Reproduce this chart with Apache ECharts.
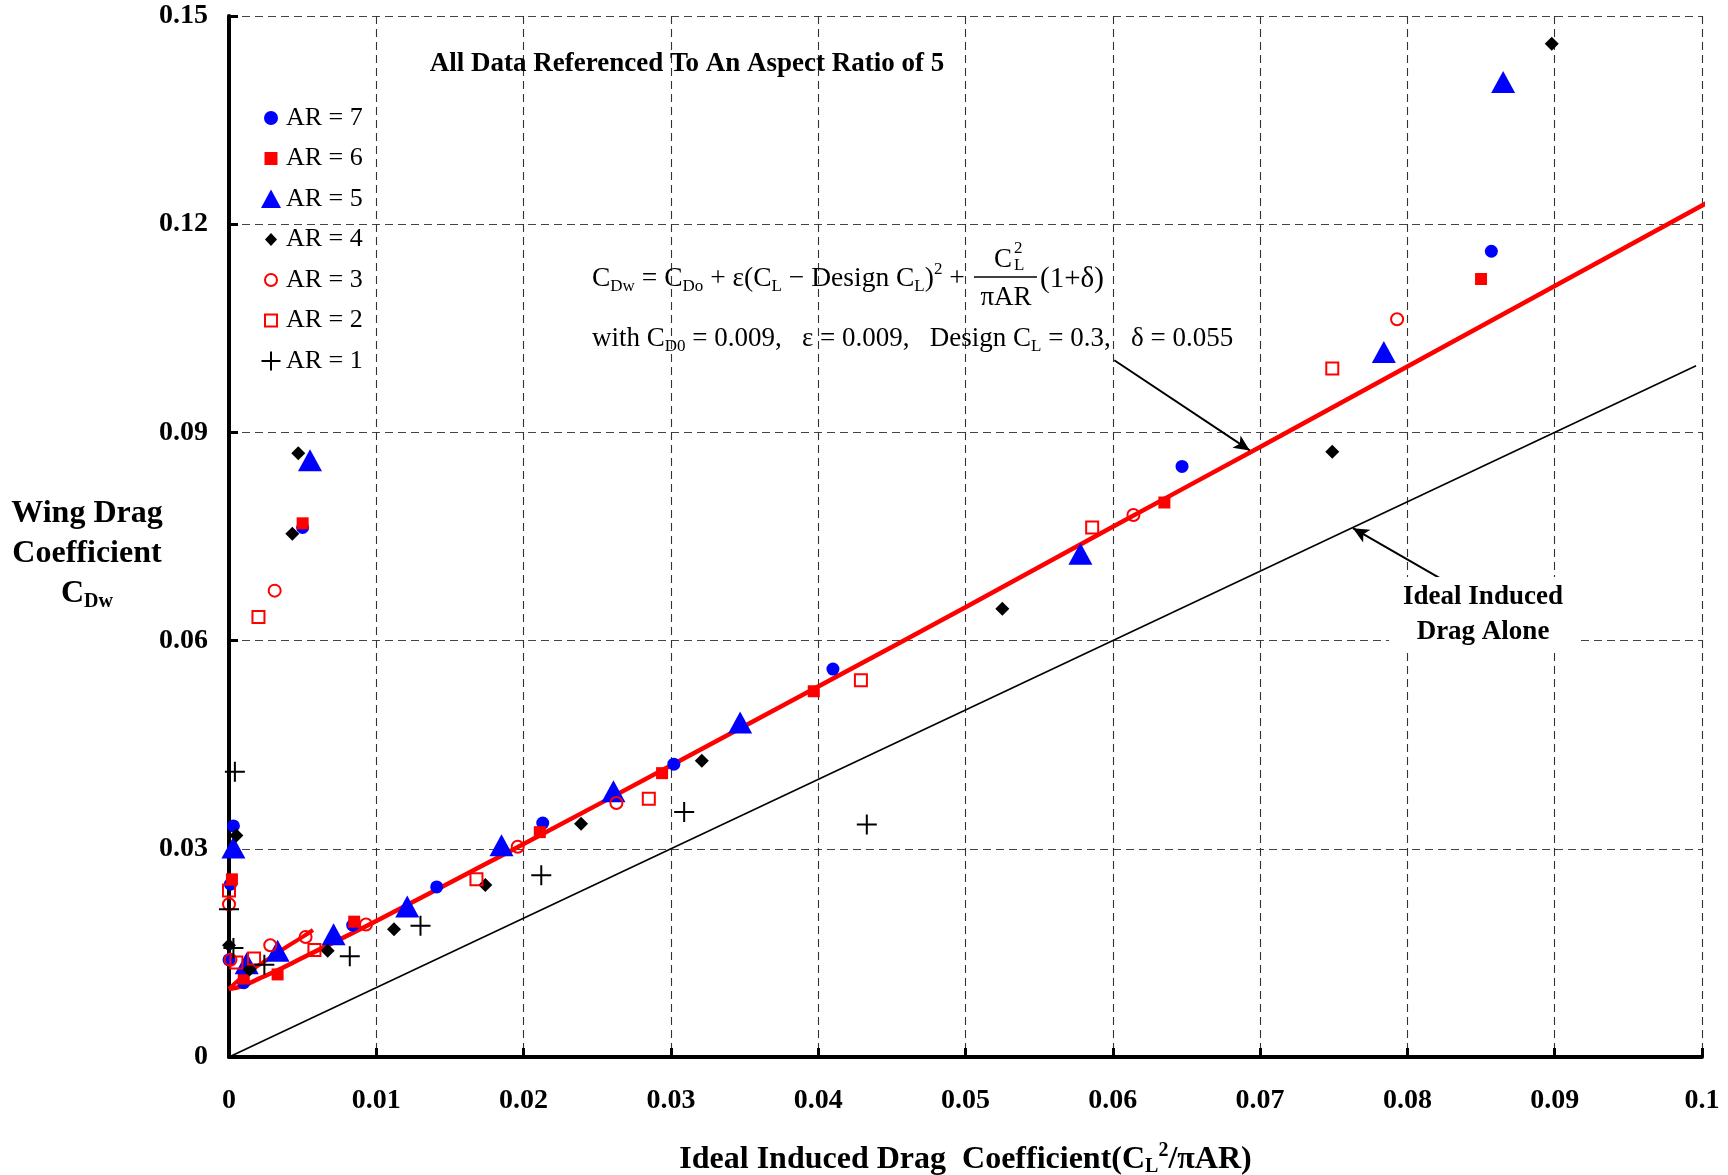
<!DOCTYPE html>
<html><head><meta charset="utf-8">
<script src="https://cdn.jsdelivr.net/npm/echarts@6/dist/echarts.min.js"></script>
<style>html,body{margin:0;padding:0;background:#fff}#c{width:1728px;height:1175px}</style>
</head><body><div id="c"></div>
<script>
// ---------- data ----------
const xTickLabels = ['0','0.01','0.02','0.03','0.04','0.05','0.06','0.07','0.08','0.09','0.1'];
const yTickLabels = ['0','0.03','0.06','0.09','0.12','0.15'];
const seriesNames = ['AR = 7','AR = 6','AR = 5','AR = 4','AR = 3','AR = 2','AR = 1'];

const ar7 = [[0.0003,0.0333],[0.0001,0.0249],[0,0.014],[0.001,0.0107],[0.005,0.0763],[0.0084,0.019],[0.0141,0.0245],[0.0213,0.0337],[0.0302,0.0422],[0.041,0.0559],[0.0647,0.0851],[0.0857,0.1161]];
const ar6 = [[0.0002,0.0256],[0.001,0.0113],[0.0033,0.0119],[0.005,0.0769],[0.0085,0.0195],[0.0211,0.0324],[0.0294,0.0409],[0.0397,0.0527],[0.0635,0.0799],[0.085,0.1121]];
const ar5 = [[0.0003,0.0302],[0.0012,0.0135],[0.0033,0.0153],[0.0055,0.086],[0.0071,0.0177],[0.0121,0.0217],[0.0185,0.0305],[0.0261,0.0383],[0.0347,0.0482],[0.0578,0.0725],[0.0784,0.1016],[0.0865,0.1405]];
const ar4 = [[0.0005,0.0319],[0,0.0161],[0.0014,0.0126],[0.0043,0.0754],[0.0047,0.087],[0.0067,0.0153],[0.0112,0.0184],[0.0174,0.0248],[0.0239,0.0336],[0.0321,0.0427],[0.0525,0.0646],[0.0749,0.0872],[0.0898,0.146]];
const ar3 = [[0,0.022],[0.0001,0.014],[0.0028,0.0161],[0.0031,0.0672],[0.0052,0.0173],[0.0093,0.0191],[0.0196,0.0303],[0.0263,0.0366],[0.0614,0.0781],[0.0793,0.1063]];
const ar2 = [[0,0.024],[0.0005,0.0136],[0.0017,0.0142],[0.002,0.0634],[0.0058,0.0154],[0.0168,0.0256],[0.0285,0.0372],[0.0429,0.0543],[0.0586,0.0763],[0.0749,0.0992]];
const ar1 = [[0.0004,0.0411],[0,0.0213],[0.0003,0.0157],[0.0024,0.0133],[0.0082,0.0145],[0.013,0.0189],[0.0212,0.0262],[0.0309,0.0353],[0.0433,0.0335]];

// red model curve
const modelCurve = [[0,0.0098],[0.001,0.0103],[0.002,0.01125],[0.003,0.0122],[0.005,0.0143],[0.01,0.0196],[0.02,0.0307],[0.03,0.042],[0.04,0.0534],[0.05,0.0648],[0.06,0.0764],[0.07,0.0879],[0.08,0.0995],[0.09,0.1111],[0.1,0.1227],[0.101,0.1239]];
// short red branch near the origin
const modelBranch = [[0,0.0098],[0.001,0.0117],[0.002,0.0132],[0.003,0.0146],[0.004,0.016],[0.005,0.0173],[0.0057,0.0183]];
// ideal induced drag alone
const idealLine = [[0,0],[0.0996,0.0996]];
// annotation arrows [start, end]
const arrowModel = [[0.0601,0.1004],[0.0693,0.0874]];
const arrowIdeal = [[0.0822,0.069],[0.0763,0.0762]];

// ---------- chart ----------
const SERIF = '"Liberation Serif", "Times New Roman", serif';
const chart = echarts.init(document.getElementById('c'), null, {renderer:'canvas'});
const plusPath = 'path://M0,10L20,10M10,0L10,20';

const markerDefs = [
  {data: ar7, symbol:'circle', size:13, style:{color:'#0000ff', opacity:1},
   icon:'path://M0,0M20,20M10,3A7,7,0,1,1,9.99,3Z'},
  {data: ar6, symbol:'rect', size:12, style:{color:'#ff0000', opacity:1},
   icon:'path://M0,0M20,20M3.5,3.5L16.5,3.5L16.5,16.5L3.5,16.5Z'},
  {data: ar5, symbol:'triangle', size:[24,22], style:{color:'#0000ff', opacity:1},
   icon:'path://M0,0M20,20M10,0.5L20,19L0,19Z'},
  {data: ar4, symbol:'diamond', size:14, style:{color:'#000000', opacity:1},
   icon:'path://M0,0M20,20M10,3.5L16,10L10,16.5L4,10Z'},
  {data: ar3, symbol:'circle', size:12, style:{color:'rgba(255,255,255,0)', borderColor:'#ff0000', borderWidth:2, opacity:1},
   icon:'path://M0,0M20,20M10,4A6,6,0,1,1,9.99,4Z'},
  {data: ar2, symbol:'rect', size:12, style:{color:'rgba(255,255,255,0)', borderColor:'#ff0000', borderWidth:2, opacity:1},
   icon:'path://M0,0M20,20M4,4L16,4L16,16L4,16Z'},
  {data: ar1, symbol:plusPath, size:20, style:{color:'rgba(255,255,255,0)', borderColor:'#000000', borderWidth:2, opacity:1},
   icon:'path://M0,0M20,20M0.5,10L19.5,10M10,0.5L10,19.5'}
];

const series = [
  {type:'line', name:'ideal', data: idealLine, symbol:'none', silent:true, clip:false, z:2,
   lineStyle:{color:'#000', width:1.6},
   markLine:{silent:true, symbol:['none','arrow'], symbolSize:[11,16], label:{show:false},
     lineStyle:{color:'#000', width:2, type:'solid'},
     data:[[{coord:arrowModel[0]},{coord:arrowModel[1]}],[{coord:arrowIdeal[0]},{coord:arrowIdeal[1]}]]}},
  {type:'line', name:'model', data: modelCurve, symbol:'none', silent:true, clip:false, smooth:true, z:2,
   lineStyle:{color:'#ff0000', width:4.5}},
  {type:'line', name:'branch', data: modelBranch, symbol:'none', silent:true, clip:false, smooth:true, z:2,
   lineStyle:{color:'#ff0000', width:4}}
];
markerDefs.forEach((m,i)=>{
  series.push({type:'scatter', name: seriesNames[i], data:m.data, symbol:m.symbol, symbolSize:m.size,
    itemStyle:m.style, z:3, clip:false});
});

const option = {
  animation:false,
  backgroundColor:'#fff',
  textStyle:{fontFamily:SERIF},
  grid:{left:229, right:26, top:16, bottom:118, containLabel:false, outerBoundsMode:'none'},
  legend:{
    data: seriesNames.map((n,i)=>({name:n, icon:markerDefs[i].icon})),
    orient:'vertical', left:255, top:100, itemWidth:20, itemHeight:20, itemGap:14.5,
    selectedMode:false,
    textStyle:{fontFamily:SERIF, fontSize:26, color:'#000'}
  },
  xAxis:{
    type:'value', min:0, max:0.1, interval:0.01,
    axisLine:{show:true, onZero:false, lineStyle:{color:'#000', width:4}},
    axisTick:{show:true, inside:true, length:9, lineStyle:{color:'#000', width:3}},
    axisLabel:{margin:30, fontFamily:SERIF, fontWeight:'bold', fontSize:28, color:'#000',
      formatter:(v)=>xTickLabels[Math.round(v/0.01)]},
    splitLine:{show:true, lineStyle:{color:'#333', width:1.1, type:[8,5]}},
    name:'{b|Ideal Induced Drag  Coefficient(C}{bs|L}{bp|2}{b|/πAR)}',
    nameLocation:'middle', nameGap:84,
    nameTextStyle:{rich:{
      b:{fontFamily:SERIF, fontWeight:'bold', fontSize:32, color:'#000'},
      bs:{fontFamily:SERIF, fontWeight:'bold', fontSize:20, color:'#000', padding:[15,0,0,0]},
      bp:{fontFamily:SERIF, fontWeight:'bold', fontSize:20, color:'#000', padding:[0,0,17,0]}
    }}
  },
  yAxis:{
    type:'value', min:0, max:0.15, interval:0.03,
    axisLine:{show:true, onZero:false, lineStyle:{color:'#000', width:4}},
    axisTick:{show:true, inside:true, length:9, lineStyle:{color:'#000', width:3}},
    axisLabel:{margin:21, fontFamily:SERIF, fontWeight:'bold', fontSize:28, color:'#000',
      formatter:(v)=>yTickLabels[Math.round(v/0.03)]},
    splitLine:{show:true, lineStyle:{color:'#444', width:1.1, type:[8,5]}}
  },
  graphic:[
    {type:'text', x:687, y:64, z:10, style:{text:'All Data Referenced To An Aspect Ratio of 5',
      font:'bold 27px '+SERIF, fill:'#000', align:'center', verticalAlign:'middle'}},
    {type:'text', x:87, y:554, z:10, style:{
      text:'{b|Wing Drag}\n{b|Coefficient}\n{b|C}{bs|Dw}', align:'center', verticalAlign:'middle',
      rich:{
        b:{fontFamily:SERIF, fontWeight:'bold', fontSize:32, lineHeight:40, fill:'#000', align:'center'},
        bs:{fontFamily:SERIF, fontWeight:'bold', fontSize:20, lineHeight:40, fill:'#000', padding:[15,0,0,0]}
      }}},
    // equation line 1
    {type:'text', x:592, y:279, z:10, style:{
      text:'{n|C}{s|Dw}{n| = C}{s|Do}{n| + ε(C}{s|L}{n| − Design C}{s|L}{n|)}{p|2}{n| +}',
      align:'left', verticalAlign:'middle',
      rich:{
        n:{fontFamily:SERIF, fontSize:27.5, fill:'#000'},
        s:{fontFamily:SERIF, fontSize:17, fill:'#000', padding:[15,0,0,0]},
        p:{fontFamily:SERIF, fontSize:17, fill:'#000', padding:[0,0,19,0]}
      }}},
    {type:'text', x:1012, y:260, z:10, style:{text:'C', font:'27px '+SERIF, fill:'#000', align:'right', verticalAlign:'middle'}},
    {type:'text', x:1014, y:249, z:10, style:{text:'2', font:'17px '+SERIF, fill:'#000', align:'left', verticalAlign:'middle'}},
    {type:'text', x:1014, y:266, z:10, style:{text:'L', font:'17px '+SERIF, fill:'#000', align:'left', verticalAlign:'middle'}},
    {type:'line', z:10, shape:{x1:974, y1:277, x2:1037, y2:277}, style:{stroke:'#000', lineWidth:1.3}},
    {type:'text', x:1006, y:298, z:10, style:{text:'πAR', font:'27px '+SERIF, fill:'#000', align:'center', verticalAlign:'middle'}},
    {type:'text', x:1040, y:279, z:10, style:{text:'(1+δ)', font:'29px '+SERIF, fill:'#000', align:'left', verticalAlign:'middle'}},
    // equation line 2
    {type:'text', x:592, y:339, z:10, style:{
      text:'{n|with C}{s|D0}{n| = 0.009,   ε = 0.009,   Design C}{s|L}{n| = 0.3,   δ = 0.055}',
      align:'left', verticalAlign:'middle',
      rich:{
        n:{fontFamily:SERIF, fontSize:27, fill:'#000'},
        s:{fontFamily:SERIF, fontSize:17, fill:'#000', padding:[15,0,0,0]}
      }}},
    // ideal induced label
    {type:'text', x:1483, y:615, z:10, style:{
      text:'Ideal Induced\nDrag Alone', font:'bold 27px '+SERIF, lineHeight:35, fill:'#000',
      align:'center', verticalAlign:'middle', backgroundColor:'#fff', padding:[2,14,4,14]}}
  ],
  series: series
};
chart.setOption(option);
</script>
</body></html>
